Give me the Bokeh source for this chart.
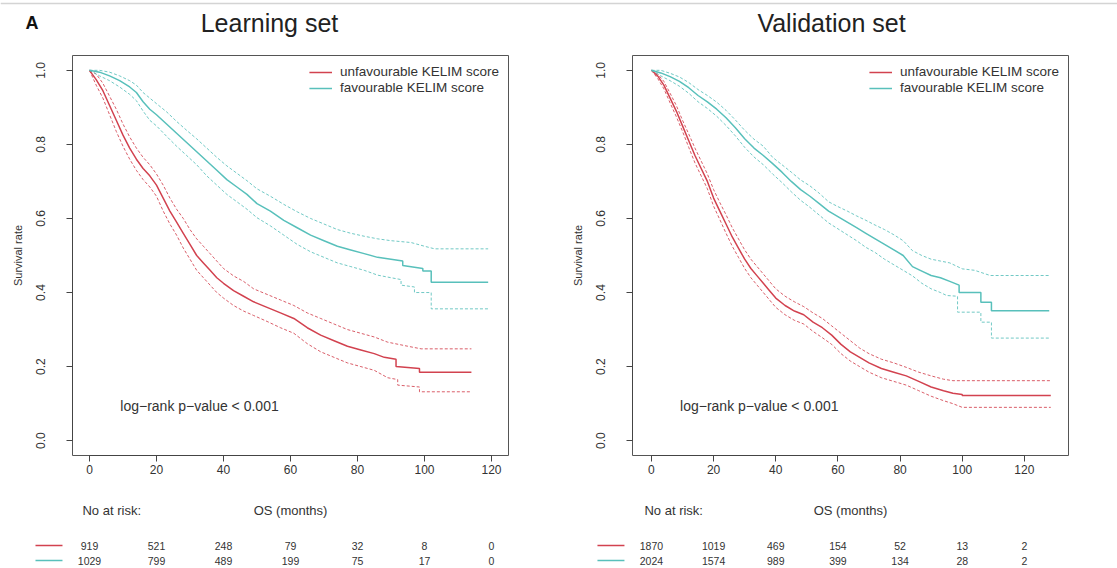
from bokeh.plotting import figure
from bokeh.models import Range1d, Legend, LegendItem, NumeralTickFormatter, Label
from bokeh.layouts import column, row
from bokeh.embed import file_html
from bokeh.resources import INLINE
from bokeh.core.properties import value

FONT = "Liberation Sans"
RED = "#d2424f"
TEAL = "#58c0bb"
AXC = "#444444"

# ---------------- data ----------------
x_ticks = [0, 20, 40, 60, 80, 100, 120]
y_ticks = [0.0, 0.2, 0.4, 0.6, 0.8, 1.0]
legend_labels = ["unfavourable KELIM score", "favourable KELIM score"]
titles = ["Learning set", "Validation set"]
panel_letter = "A"
pvalue_text = "log\u2212rank p\u2212value < 0.001"

# Learning set, unfavourable  (time in months, survival)
learn_unfav_t = [0, 2, 4, 6, 8, 10, 12, 14, 16, 18, 20, 22, 24, 26, 28, 30, 32, 34, 36, 38, 40, 43, 46, 49, 53, 57, 61, 65, 69, 73, 77, 81, 85, 88, 91.5, 91.5, 98.5, 98.5, 114]
learn_unfav_s = [1.0, .975, .945, .905, .865, .825, .79, .76, .735, .715, .69, .655, .62, .59, .56, .53, .50, .48, .46, .44, .425, .405, .39, .375, .36, .345, .33, .305, .285, .27, .255, .245, .235, .225, .22, .20, .195, .185, .185]
learn_unfav_hi_t = [0, 2, 4, 6, 8, 10, 12, 14, 16, 18, 20, 22, 24, 26, 28, 30, 32, 34, 36, 38, 40, 43, 46, 49, 53, 57, 61, 65, 69, 73, 77, 81, 85, 89, 95, 99, 114]
learn_unfav_hi = [1.0, .99, .965, .93, .895, .855, .82, .79, .765, .745, .72, .69, .655, .625, .60, .57, .545, .525, .505, .485, .465, .445, .43, .41, .395, .38, .365, .345, .33, .315, .30, .29, .28, .266, .255, .248, .248]
learn_unfav_lo_t = [0, 2, 4, 6, 8, 10, 12, 14, 16, 18, 20, 22, 24, 26, 28, 30, 32, 34, 36, 38, 40, 43, 46, 49, 53, 57, 61, 65, 69, 73, 77, 81, 85, 89, 92, 92, 98.5, 98.5, 114]
learn_unfav_lo = [1.0, .96, .925, .88, .835, .795, .76, .73, .705, .685, .66, .62, .585, .555, .52, .49, .46, .44, .42, .40, .385, .365, .35, .338, .322, .305, .29, .262, .24, .225, .21, .20, .19, .17, .165, .15, .145, .132, .132]

# Learning set, favourable
learn_fav_t = [0, 3, 6, 9, 12, 14, 16, 18, 20, 23, 26, 29, 32, 35, 38, 41, 44, 47, 50, 54, 58, 62, 66, 70, 74, 78, 82, 86, 90, 93.5, 93.5, 99.5, 99.5, 102, 102, 119]
learn_fav_s = [1.0, .995, .985, .972, .955, .94, .915, .895, .88, .855, .83, .805, .78, .755, .73, .705, .685, .665, .64, .62, .595, .575, .555, .54, .525, .515, .505, .495, .49, .485, .473, .465, .458, .458, .428, .428]
learn_fav_hi_t = [0, 3, 6, 9, 12, 14, 16, 18, 20, 23, 26, 29, 32, 35, 38, 41, 44, 47, 50, 54, 58, 62, 66, 70, 74, 78, 82, 86, 90, 96, 100, 103, 119]
learn_fav_hi = [1.0, 1.0, .995, .985, .972, .96, .94, .925, .91, .888, .862, .838, .815, .79, .765, .742, .722, .702, .68, .66, .638, .618, .60, .585, .57, .56, .552, .545, .54, .535, .525, .518, .518]
learn_fav_lo_t = [0, 3, 6, 9, 12, 14, 16, 18, 20, 23, 26, 29, 32, 35, 38, 41, 44, 47, 50, 54, 58, 62, 66, 70, 74, 78, 82, 86, 90, 93, 93, 97, 97, 102, 102, 119]
learn_fav_lo = [1.0, .985, .972, .955, .935, .918, .89, .865, .85, .822, .795, .77, .745, .715, .69, .665, .645, .625, .602, .58, .555, .53, .51, .495, .48, .47, .46, .447, .44, .435, .42, .415, .40, .40, .356, .356]

# Validation set, unfavourable
val_unfav_t = [0, 2, 4, 6, 8, 10, 12, 14, 16, 18, 20, 22, 24, 26, 28, 30, 32, 34, 36, 38, 40, 43, 46, 49, 52, 55, 58, 61, 64, 67, 70, 74, 78, 82, 86, 90, 94, 97, 100, 100, 128.5]
val_unfav_s = [1.0, .985, .96, .925, .89, .85, .81, .77, .735, .70, .655, .62, .585, .55, .52, .49, .465, .445, .425, .405, .385, .365, .35, .34, .32, .305, .285, .26, .24, .225, .21, .195, .185, .175, .16, .145, .135, .128, .125, .122, .122]
val_unfav_hi_t = [0, 2, 4, 6, 8, 10, 12, 14, 16, 18, 20, 22, 24, 26, 28, 30, 32, 34, 36, 38, 40, 43, 46, 49, 52, 55, 58, 61, 64, 67, 70, 74, 78, 82, 86, 90, 94, 97, 128.5]
val_unfav_hi = [1.0, .99, .97, .938, .905, .865, .828, .79, .755, .72, .678, .643, .61, .575, .545, .515, .49, .47, .45, .43, .41, .39, .375, .362, .345, .33, .31, .29, .27, .25, .235, .22, .21, .198, .185, .175, .166, .162, .162]
val_unfav_lo_t = [0, 2, 4, 6, 8, 10, 12, 14, 16, 18, 20, 22, 24, 26, 28, 30, 32, 34, 36, 38, 40, 43, 46, 49, 52, 55, 58, 61, 64, 67, 70, 74, 78, 82, 86, 90, 94, 97, 100, 128.5]
val_unfav_lo = [1.0, .978, .95, .912, .875, .835, .792, .75, .715, .68, .633, .597, .56, .525, .495, .465, .44, .42, .40, .38, .36, .34, .325, .315, .295, .278, .26, .235, .215, .20, .185, .17, .16, .15, .135, .12, .108, .10, .09, .09]

# Validation set, favourable
val_fav_t = [0, 3, 6, 9, 12, 15, 18, 21, 24, 27, 30, 33, 36, 39, 42, 45, 48, 51, 54, 57, 60, 63, 66, 69, 72, 75, 78, 81, 84, 87, 90, 93, 96, 99, 99, 106, 106, 109.4, 109.4, 128]
val_fav_s = [1.0, .993, .983, .97, .953, .932, .915, .895, .872, .845, .815, .79, .77, .748, .725, .70, .678, .66, .64, .62, .605, .59, .575, .56, .545, .53, .515, .50, .47, .458, .446, .44, .43, .42, .40, .40, .374, .374, .351, .351]
val_fav_hi_t = [0, 3, 6, 9, 12, 15, 18, 21, 24, 27, 30, 33, 36, 39, 42, 45, 48, 51, 54, 57, 60, 63, 66, 69, 72, 75, 78, 81, 84, 87, 90, 93, 96, 100, 104, 109, 128]
val_fav_hi = [1.0, 1.0, .992, .982, .967, .948, .932, .914, .892, .866, .838, .814, .795, .765, .745, .725, .704, .688, .668, .645, .632, .62, .607, .595, .582, .57, .556, .54, .513, .50, .49, .485, .48, .464, .46, .446, .446]
val_fav_lo_t = [0, 3, 6, 9, 12, 15, 18, 21, 24, 27, 30, 33, 36, 39, 42, 45, 48, 51, 54, 57, 60, 63, 66, 69, 72, 75, 78, 81, 84, 87, 90, 93, 95, 98.5, 98.5, 106, 106, 109.4, 109.4, 128]
val_fav_lo = [1.0, .985, .972, .957, .938, .915, .897, .876, .851, .823, .792, .766, .745, .72, .697, .672, .649, .63, .609, .588, .572, .556, .54, .522, .508, .49, .475, .46, .445, .425, .41, .40, .392, .39, .347, .347, .32, .32, .277, .277]

# numbers at risk
risk_learn_unfav = [919, 521, 248, 79, 32, 8, 0]
risk_learn_fav = [1029, 799, 489, 199, 75, 17, 0]
risk_val_unfav = [1870, 1019, 469, 154, 52, 13, 2]
risk_val_fav = [2024, 1574, 989, 399, 134, 28, 2]

# ---------------- layout ----------------
PAGE_W = 1117
HEAD_H = 54
FRAME_W = 436
FRAME_H = 400
BOT_B = 26
H1 = 1 + FRAME_H + BOT_B
H2 = 568 - HEAD_H - H1


def base(fig):
    fig.xgrid.visible = False
    fig.ygrid.visible = False
    fig.background_fill_color = "white"
    fig.border_fill_color = "white"


# header figure with panel letter and titles
head = figure(width=PAGE_W, height=HEAD_H, x_range=Range1d(0, PAGE_W), y_range=Range1d(0, HEAD_H),
              output_backend="svg", toolbar_location=None, min_border=0)
base(head)
head.axis.visible = False
head.outline_line_color = None
head.line(x=[0, PAGE_W], y=[HEAD_H - 3, HEAD_H - 3], line_color="#d4d4d4", line_width=1.5)
head.text(x=[25], y=[HEAD_H - 22], text=[panel_letter], text_font=value(FONT),
          text_font_size="18px", text_font_style="bold", text_color="#111111",
          text_align="left", text_baseline="middle")
head.text(x=[269, 831], y=[HEAD_H - 22, HEAD_H - 22], text=titles, text_font=value(FONT),
          text_font_size="25px", text_color="#222222",
          text_align="center", text_baseline="middle")


def make_panel(xr, width, bl, br, curves, risks):
    p = figure(width=width, height=H1, x_range=Range1d(*xr), y_range=Range1d(-0.04, 1.04),
               output_backend="svg", toolbar_location=None,
               min_border_left=bl, min_border_right=br,
               min_border_top=1, min_border_bottom=BOT_B)
    base(p)
    p.outline_line_color = "#555555"
    p.outline_line_width = 1

    for ax in (p.xaxis[0], p.yaxis[0]):
        ax.axis_line_color = AXC
        ax.major_tick_line_color = AXC
        ax.major_tick_out = 6
        ax.major_tick_in = 0
        ax.minor_tick_line_color = None
        ax.major_label_text_font = FONT
        ax.major_label_text_font_size = "12px"
        ax.major_label_text_color = "#333333"
    p.xaxis.ticker = x_ticks
    p.xaxis.bounds = (x_ticks[0], x_ticks[-1])
    p.xaxis.major_label_standoff = 3
    p.yaxis.ticker = y_ticks
    p.yaxis.bounds = (y_ticks[0], y_ticks[-1])
    p.yaxis.formatter = NumeralTickFormatter(format="0.0")
    p.yaxis.major_label_orientation = "vertical"
    p.yaxis.major_label_standoff = 21
    p.yaxis.axis_label = "Survival rate"
    p.yaxis.axis_label_text_font = FONT
    p.yaxis.axis_label_text_font_size = "11px"
    p.yaxis.axis_label_text_font_style = "normal"
    p.yaxis.axis_label_text_color = "#333333"
    p.yaxis.axis_label_standoff = 10

    items = []
    for (t, s, lt, lo, ht, hi, col), lab in zip(curves, legend_labels):
        p.line(ht, hi, line_color=col, line_width=1, line_dash="3 2", line_alpha=0.85)
        p.line(lt, lo, line_color=col, line_width=1, line_dash="3 2", line_alpha=0.85)
        r = p.line(t, s, line_color=col, line_width=1.5)
        items.append(LegendItem(label=lab, renderers=[r]))
    leg = Legend(items=items, location="top_right", border_line_color=None,
                 background_fill_alpha=0, label_text_font=FONT, label_text_font_size="13.5px",
                 label_text_color="#333333", glyph_width=23, glyph_height=12, label_height=13,
                 label_standoff=8, spacing=1, padding=2, margin=9)
    p.add_layout(leg)

    p.add_layout(Label(x=9.2, y=0.095, text=pvalue_text, text_font=FONT,
                       text_font_size="14px", text_color="#333333",
                       text_align="left", text_baseline="middle"))

    # risk table figure with a matching horizontal scale
    scale = FRAME_W / (xr[1] - xr[0])
    t0 = xr[0] - bl / scale
    t1 = xr[1] + br / scale
    tb = figure(width=width, height=H2, x_range=Range1d(t0, t1), y_range=Range1d(0, H2),
                output_backend="svg", toolbar_location=None, min_border=0)
    base(tb)
    tb.axis.visible = False
    tb.outline_line_color = None

    y_head, y_r1, y_r2 = 58, 23, 8
    tb.text(x=[x_ticks[0] - 7 / scale], y=[y_head], text=["No at risk:"],
            text_font=value(FONT), text_font_size="13px", text_color="#333333",
            text_align="left", text_baseline="middle")
    tb.text(x=[(xr[0] + xr[1]) / 2], y=[y_head], text=["OS (months)"],
            text_font=value(FONT), text_font_size="13px", text_color="#333333",
            text_align="center", text_baseline="middle")
    for (t, s, lt, lo, ht, hi, col), vals, yy in zip(curves, risks, (y_r1, y_r2)):
        tb.segment(x0=[x_ticks[0] - 54 / scale], x1=[x_ticks[0] - 27 / scale], y0=[yy], y1=[yy],
                   line_color=col, line_width=1.6)
        tb.text(x=x_ticks, y=[yy] * len(x_ticks), text=[str(v) for v in vals],
                text_font=value(FONT), text_font_size="10.5px", text_color="#333333",
                text_align="center", text_baseline="middle")
    return p, tb


p1, t1 = make_panel((-5.07, 125.07), 560, 72, 52,
                    [(learn_unfav_t, learn_unfav_s, learn_unfav_lo_t, learn_unfav_lo,
                      learn_unfav_hi_t, learn_unfav_hi, RED),
                     (learn_fav_t, learn_fav_s, learn_fav_lo_t, learn_fav_lo,
                      learn_fav_hi_t, learn_fav_hi, TEAL)],
                    [risk_learn_unfav, risk_learn_fav])
p2, t2 = make_panel((-6.1, 134.2), 557, 72, 49,
                    [(val_unfav_t, val_unfav_s, val_unfav_lo_t, val_unfav_lo,
                      val_unfav_hi_t, val_unfav_hi, RED),
                     (val_fav_t, val_fav_s, val_fav_lo_t, val_fav_lo,
                      val_fav_hi_t, val_fav_hi, TEAL)],
                    [risk_val_unfav, risk_val_fav])

layout = column(head, row(p1, p2, spacing=0), row(t1, t2, spacing=0), spacing=0)
open("out.html", "w").write(file_html(layout, INLINE))
